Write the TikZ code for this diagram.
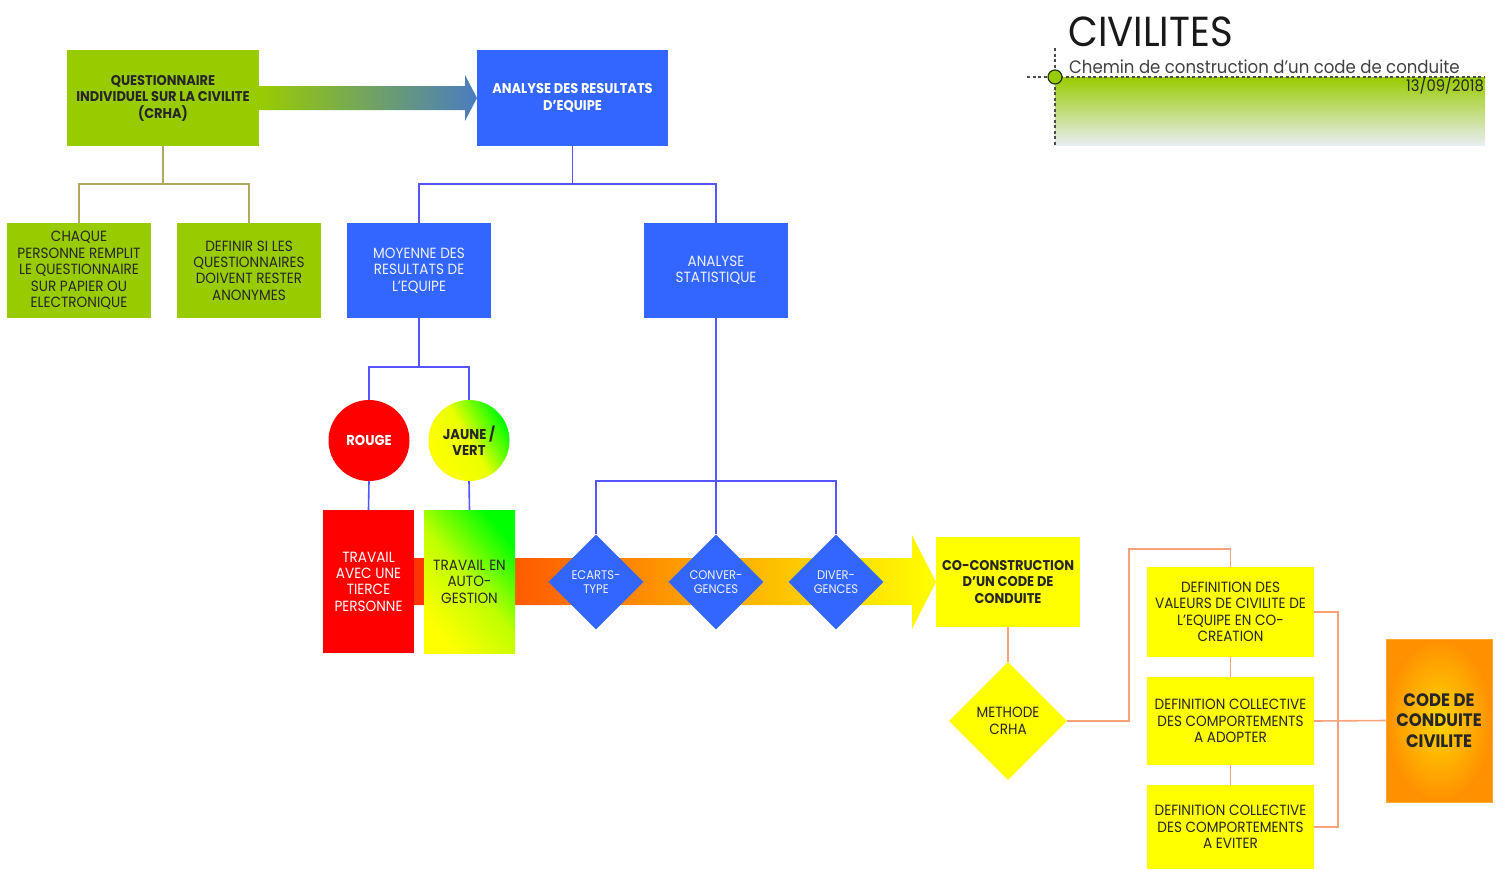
\documentclass[tikz,border=0pt]{standalone}
\usepackage{fontspec}
\setmainfont{Poppins}[FakeStretch=0.92]
\usetikzlibrary{shapes.geometric,calc}
\definecolor{cgreen}{HTML}{99CC00}
\definecolor{cblue}{HTML}{3366FF}
\definecolor{cred}{HTML}{FF0000}
\definecolor{cyellow}{HTML}{FFFF00}
\definecolor{cvert}{HTML}{00FF00}
\definecolor{ctan}{HTML}{B3A860}
\definecolor{cline}{HTML}{5555FF}
\definecolor{csalmon}{HTML}{F7A37A}
\definecolor{corange}{HTML}{FF9000}
\definecolor{corangec}{HTML}{FFD400}
\definecolor{csteel}{HTML}{4A7CC0}
\definecolor{cdark}{HTML}{262626}
\definecolor{cpale}{HTML}{E8EEF2}
\definecolor{cwhite}{HTML}{EEF2FF}
\definecolor{carrowa}{HTML}{FF3300}
\definecolor{carrowb}{HTML}{FF8000}
\newcommand\myfs[2]{\fontsize{#1}{#2}\selectfont}
\tikzset{
  box/.style={rectangle, inner sep=0pt, align=center, font=\myfs{14.8}{16.4}},
  bold/.style={font=\myfs{14.1}{16.5}\bfseries},
  gbox/.style={box, fill=cgreen, text=cdark},
  bbox/.style={box, fill=cblue, text=cwhite},
  ybox/.style={box, fill=cyellow, text=cdark},
  dia/.style={diamond, inner sep=0pt, align=center, fill=cblue, text=cwhite,
    minimum width=95pt, minimum height=95pt, font=\myfs{12.5}{14}},
  round/.style={circle, inner sep=0pt, minimum size=81pt, align=center, font=\myfs{14.3}{16.5}\bfseries},
  tanline/.style={draw=ctan, line width=1.6pt},
  blueline/.style={draw=cline, line width=1.6pt},
  salline/.style={draw=csalmon, line width=1.6pt},
  dashln/.style={draw=black!70, line width=1.1pt, dash pattern=on 3pt off 2.5pt},
}
\begin{document}
\begin{tikzpicture}[x=1pt,y=-1pt]
\useasboundingbox (0,0) rectangle (1502,870);

% title area
\shade[top color=cgreen, bottom color=cpale] (1055,77) rectangle (1485,145);
\draw[dashln] (1027,77) -- (1485,77);
\draw[dashln] (1055,48) -- (1055,145);
\node[circle, inner sep=0pt, minimum size=14pt, fill=cgreen, draw=black!75!cgreen, line width=1.2pt] (dot) at (1055,77) {};
\node[anchor=base west, inner sep=0pt, text=black!90, font=\myfs{42}{44}] (title) at (1068,46) {CIVILITES};
\node[anchor=base west, inner sep=0pt, text=black!75, font=\myfs{18}{20}] (sub) at (1069,73) {Chemin de construction d’un code de conduite};
\node[anchor=base east, inner sep=0pt, text=black!85, font=\myfs{16}{18}] (date) at (1484,91) {13/09/2018};

% gradient arrow top
\shade[left color=cgreen, right color=csteel]
  (259,86) -- (465,86) -- (465,75) -- (477,98) -- (465,121) -- (465,110) -- (259,110) -- cycle;

% big arrow
\shade[left color=carrowa, middle color=carrowb, right color=cyellow]
  (414,558) -- (912,558) -- (912,535) -- (936,582) -- (912,629) -- (912,605) -- (414,605) -- cycle;

% nodes
\node[gbox, bold, minimum width=192pt, minimum height=96pt] (q) at (163,98) {QUESTIONNAIRE\\INDIVIDUEL SUR LA CIVILITE\\(CRHA)};
\node[bbox, bold, text=white, minimum width=191pt, minimum height=96pt] (a) at (572.5,98) {ANALYSE DES RESULTATS\\D’EQUIPE};
\node[gbox, minimum width=144pt, minimum height=95pt] (c1) at (79,270.5) {CHAQUE\\PERSONNE REMPLIT\\LE QUESTIONNAIRE\\SUR PAPIER OU\\ELECTRONIQUE};
\node[gbox, minimum width=144pt, minimum height=95pt] (c2) at (249,270.5) {DEFINIR SI LES\\QUESTIONNAIRES\\DOIVENT RESTER\\ANONYMES};
\node[bbox, minimum width=144pt, minimum height=95pt] (m) at (419,270.5) {MOYENNE DES\\RESULTATS DE\\L’EQUIPE};
\node[bbox, minimum width=144pt, minimum height=95pt] (s) at (716,270.5) {ANALYSE\\STATISTIQUE};
\node[round, fill=cred, text=white] (r) at (369,440.5) {ROUGE};
\node[round, top color=cvert, bottom color=cyellow, middle color=cyellow!92!cvert, shading angle=-60, text=cdark] (j) at (469,440.5) {JAUNE /\\VERT};
\node[box, fill=cred, text=white, minimum width=91pt, minimum height=143pt] (tr) at (368.5,581.5) {TRAVAIL\\AVEC UNE\\TIERCE\\PERSONNE};
\node[box, top color=cvert, bottom color=cyellow, middle color=cyellow!75!cvert, shading angle=-50, text=cdark, minimum width=91pt, minimum height=143pt] (ta) at (469.5,581.5) {TRAVAIL EN\\AUTO-\\GESTION};
\node[dia] (d1) at (596,582) {ECARTS-\\TYPE};
\node[dia] (d2) at (716,582) {CONVER-\\GENCES};
\node[dia] (d3) at (836,582) {DIVER-\\GENCES};
\node[ybox, bold, minimum width=144pt, minimum height=90pt] (co) at (1008,582) {CO-CONSTRUCTION\\D’UN CODE DE\\CONDUITE};
\node[diamond, inner sep=0pt, align=center, fill=cyellow, text=cdark, minimum width=118pt, minimum height=118pt, font=\myfs{14.8}{16.4}] (mc) at (1008,721) {METHODE\\CRHA};
\node[ybox, minimum width=167pt, minimum height=90pt] (e1) at (1230.5,612) {DEFINITION DES\\VALEURS DE CIVILITE DE\\L’EQUIPE EN CO-\\CREATION};
\node[ybox, minimum width=167pt, minimum height=88pt] (e2) at (1230.5,721) {DEFINITION COLLECTIVE\\DES COMPORTEMENTS\\A ADOPTER};
\node[ybox, minimum width=167pt, minimum height=84pt] (e3) at (1230.5,827) {DEFINITION COLLECTIVE\\DES COMPORTEMENTS\\A EVITER};
\node[box, inner color=corangec, outer color=corange, draw=corange!80!white, line width=1pt, text=cdark, minimum width=106pt, minimum height=163pt, font=\myfs{18}{20.5}\bfseries] (code) at (1439,720.5) {CODE DE\\CONDUITE\\CIVILITE};

% connectors
\draw[tanline] (q.south) -- ++(0,38) coordinate (qb) -| (c1.north);
\draw[tanline] (qb) -| (c2.north);
\draw[blueline] (a.south) -- ++(0,38) coordinate (ab) -| (m.north);
\draw[blueline] (ab) -| (s.north);
\draw[blueline] (m.south) -- ++(0,49) coordinate (mb) -| (r.north);
\draw[blueline] (mb) -| (j.north);
\draw[blueline] (r.south) -- (tr.north);
\draw[blueline] (j.south) -- (ta.north);
\coordinate (sb) at (716,481);
\draw[blueline] (s.south) -- (d2.north);
\draw[blueline] (d1.north) |- (sb) -| (d3.north);
\draw[salline] (co.south) -- (mc.north);
\coordinate (eb) at (1129,549);
\draw[salline] (mc.east) -| (eb) -| (e1.north);
\draw[salline] (e1.south) -- (e2.north);
\draw[salline] (e2.south) -- (e3.north);
\draw[salline] (e1.east) -- ++(24,0) |- (e3.east);
\draw[salline] (e2.east) -- (code.west);
\end{tikzpicture}
\end{document}
